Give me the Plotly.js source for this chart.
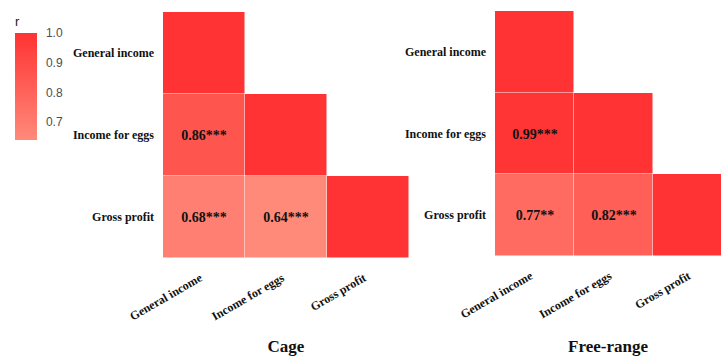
<!DOCTYPE html>
<html>
<head>
<meta charset="utf-8">
<script src="https://cdn.plot.ly/plotly-3.0.1.min.js"></script>
<style>html,body{margin:0;padding:0;background:#fff;}#chart{width:721px;height:356px;}</style>
</head>
<body>
<div id="chart"></div>
<script>
const xCategories = ["General income", "Income for eggs", "Gross profit"];
const yCategories = ["Gross profit", "Income for eggs", "General income"]; // bottom to top
// rows bottom-to-top, columns left-to-right
const cageValues = [
  [0.68, 0.64, 1.00],
  [0.86, 1.00, null],
  [1.00, null, null]
];
const cageSig = [
  ["***", "***", ""],
  ["***", "", ""],
  ["", "", ""]
];
const freeValues = [
  [0.77, 0.82, 1.00],
  [0.99, 1.00, null],
  [1.00, null, null]
];
const freeSig = [
  ["**", "***", ""],
  ["***", "", ""],
  ["", "", ""]
];
const panelTitles = ["Cage", "Free-range"];
const colorbarTicks = [0.7, 0.8, 0.9, 1.0];

const scale = [[0, "rgb(255,138,122)"], [1, "rgb(255,51,51)"]];
const serif = "Liberation Serif, Times New Roman, serif";

function labels(vals, sig) {
  return vals.map((row, i) => row.map((v, j) =>
    (v === null || sig[i][j] === "") ? "" : v.toFixed(2) + sig[i][j]));
}

const common = {
  type: "heatmap",
  x: xCategories,
  y: yCategories,
  colorscale: scale,
  zmin: 0.64,
  zmax: 1.0,
  xgap: 0.5,
  ygap: 0.5,
  texttemplate: "%{text}",
  textfont: {family: serif, size: 14, color: "#111", weight: "bold"},
  hoverongaps: false
};

const t1 = Object.assign({}, common, {
  z: cageValues,
  text: labels(cageValues, cageSig),
  xaxis: "x", yaxis: "y",
  showscale: true,
  colorbar: {
    x: 15/721, xanchor: "left", xref: "paper",
    y: 1 - 140/356, yanchor: "bottom",
    len: 127, lenmode: "pixels",
    thickness: 22, thicknessmode: "pixels",
    xpad: 0, ypad: 0,
    outlinewidth: 0,
    tickvals: colorbarTicks,
    ticktext: colorbarTicks.map(v => v.toFixed(1)),
    ticks: "outside", ticklen: 7, tickcolor: "rgba(255,255,255,0)",
    tickfont: {family: "Liberation Sans, Arial, sans-serif", size: 12, color: "#4d4d4d"},
    title: {text: "r", side: "top", font: {family: "Liberation Sans, Arial, sans-serif", size: 13, color: "#222"}}
  }
});
const t2 = Object.assign({}, common, {
  z: freeValues,
  text: labels(freeValues, freeSig),
  xaxis: "x2", yaxis: "y2",
  showscale: false
});

const axisFont = {family: serif, size: 12, color: "#111", weight: "bold"};
const titleFont = {family: serif, size: 17, color: "#111", weight: "bold"};

const xBase = {
  showgrid: false, zeroline: false, showline: false, ticks: "",
  tickangle: -30, tickfont: axisFont, ticklabelstandoff: 10, ticklabelshift: -4
};
const yBase = {
  range: [-0.5, 2.5],
  showgrid: false, zeroline: false, showline: false, ticks: "",
  tickfont: axisFont, ticklabelstandoff: 8
};

const layout = {
  width: 721, height: 356,
  margin: {l: 0, r: 0, t: 0, b: 0},
  paper_bgcolor: "#fff", plot_bgcolor: "#fff",
  xaxis: Object.assign({}, xBase, {
    domain: [163/721, 409/721], range: [-0.5, 2.5], anchor: "y",
    title: {text: panelTitles[0], font: titleFont, standoff: 21}
  }),
  yaxis: Object.assign({}, yBase, {
    domain: [1 - 258/356, 1 - 12/356], anchor: "x"
  }),
  xaxis2: Object.assign({}, xBase, {
    domain: [495/721, 1], range: [-0.5, 2.36], anchor: "y2",
    title: {text: panelTitles[1], font: titleFont, standoff: 19}
  }),
  yaxis2: Object.assign({}, yBase, {
    domain: [1 - 256/356, 1 - 11/356], anchor: "x2"
  }),
  showlegend: false
};

Plotly.newPlot("chart", [t1, t2], layout, {displayModeBar: false, staticPlot: true});
</script>
</body>
</html>
